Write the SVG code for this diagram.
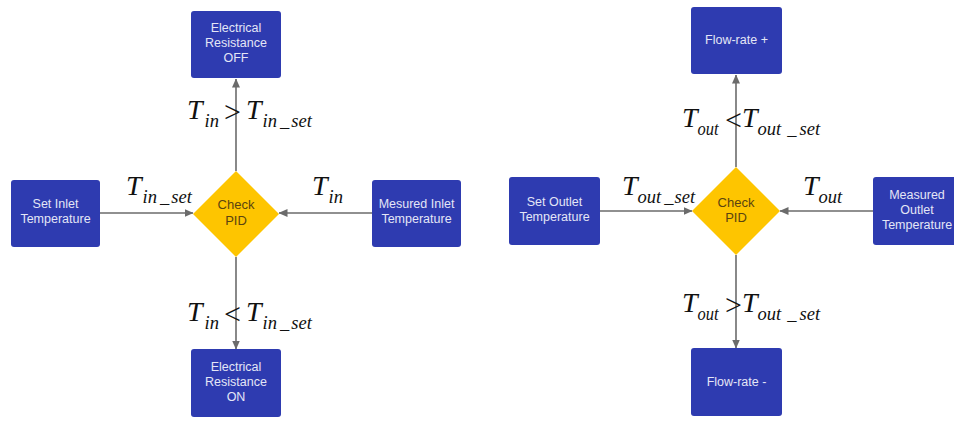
<svg xmlns="http://www.w3.org/2000/svg" width="954" height="421" viewBox="0 0 954 421">
<defs>
<marker id="ah" markerWidth="9" markerHeight="8" refX="8.5" refY="4" orient="auto" markerUnits="userSpaceOnUse">
<path d="M0,0 L9,4 L0,8 z" fill="#6b6b6b"/>
</marker>
<style>
.box{fill:#2e3bb0;}
.bt{font-family:"Liberation Sans",Arial,sans-serif;font-size:12.5px;fill:#e4e6f6;text-anchor:middle;}
.dia{fill:#fec500;}
.dt{font-family:"Liberation Sans",Arial,sans-serif;font-size:13px;fill:#5a4410;text-anchor:middle;}
.conn line{stroke:#6b6b6b;stroke-width:1.6;marker-end:url(#ah);}
.m{font-family:"Liberation Serif","Times New Roman",serif;font-style:italic;font-size:28px;fill:#111;}
.s{font-size:18.5px;}
.r{font-style:normal;font-size:30px;}
</style>
</defs>
<rect width="954" height="421" fill="#ffffff"/>

<g id="conn-left" class="conn">
<line x1="236" y1="171" x2="236" y2="79"/>
<line x1="236" y1="257" x2="236" y2="349"/>
<line x1="100" y1="213" x2="193" y2="213"/>
<line x1="372" y1="213" x2="279" y2="213"/>
</g>
<g id="conn-right" class="conn">
<line x1="736" y1="167" x2="736" y2="75"/>
<line x1="736" y1="255" x2="736" y2="348"/>
<line x1="600" y1="211" x2="692" y2="211"/>
<line x1="873" y1="211" x2="780" y2="211"/>
</g>

<g id="res-off"><rect class="box" x="191" y="11" width="90" height="67" rx="3"/>
<text class="bt" x="236" y="32">Electrical</text><text class="bt" x="236" y="47">Resistance</text><text class="bt" x="236" y="62">OFF</text></g>
<g id="res-on"><rect class="box" x="191" y="349" width="90" height="68" rx="3"/>
<text class="bt" x="236" y="371">Electrical</text><text class="bt" x="236" y="386">Resistance</text><text class="bt" x="236" y="401">ON</text></g>
<g id="set-inlet"><rect class="box" x="11" y="180" width="89" height="67" rx="3"/>
<text class="bt" x="55.5" y="208">Set Inlet</text><text class="bt" x="55.5" y="223">Temperature</text></g>
<g id="meas-inlet"><rect class="box" x="372" y="180" width="89" height="67" rx="3"/>
<text class="bt" x="416.5" y="208">Mesured Inlet</text><text class="bt" x="416.5" y="223">Temperature</text></g>
<g id="check-left"><polygon class="dia" points="236,171 279,214 236,257 193,214"/>
<text class="dt" x="236" y="209">Check</text><text class="dt" x="236" y="225">PID</text></g>

<g id="flow-plus"><rect class="box" x="691" y="7" width="91" height="67" rx="3"/>
<text class="bt" x="736.5" y="44">Flow-rate +</text></g>
<g id="flow-minus"><rect class="box" x="691" y="348" width="91" height="68" rx="3"/>
<text class="bt" x="736.5" y="386">Flow-rate -</text></g>
<g id="set-outlet"><rect class="box" x="509" y="177" width="91" height="68" rx="3"/>
<text class="bt" x="554.5" y="206">Set Outlet</text><text class="bt" x="554.5" y="221">Temperature</text></g>
<g id="meas-outlet"><rect class="box" x="873" y="177" width="90" height="68" rx="3"/>
<text class="bt" x="917" y="199">Measured</text><text class="bt" x="917" y="214">Outlet</text><text class="bt" x="917" y="229">Temperature</text></g>
<g id="check-right"><polygon class="dia" points="736,167 780,211 736,255 692,211"/>
<text class="dt" x="736" y="207">Check</text><text class="dt" x="736" y="222">PID</text></g>

<g id="labels">
<text class="m" x="187" y="119">T<tspan class="s" dx="2" dy="8">in</tspan><tspan class="r" x="224" y="122">&gt;</tspan><tspan x="246" y="119">T</tspan><tspan class="s" dx="1" dy="8">in</tspan><tspan class="s" dx="3">_</tspan><tspan class="s" dx="2">set</tspan></text>
<text class="m" x="187" y="321">T<tspan class="s" dx="2" dy="8">in</tspan><tspan class="r" x="224" y="324">&lt;</tspan><tspan x="246" y="321">T</tspan><tspan class="s" dx="1" dy="8">in</tspan><tspan class="s" dx="3">_</tspan><tspan class="s" dx="2">set</tspan></text>
<text class="m" x="126" y="195">T<tspan class="s" dx="1" dy="8">in</tspan><tspan class="s" dx="3">_</tspan><tspan class="s" dx="2">set</tspan></text>
<text class="m" x="312" y="195">T<tspan class="s" dx="1" dy="8">in</tspan></text>

<text class="m" x="682" y="127">T<tspan class="s" dy="8" textLength="21" lengthAdjust="spacingAndGlyphs">out</tspan><tspan class="r" x="725" y="130">&lt;</tspan><tspan x="742" y="127">T</tspan><tspan class="s" dy="8">out</tspan><tspan class="s" dx="6">_</tspan><tspan class="s" dx="3">set</tspan></text>
<text class="m" x="682" y="312">T<tspan class="s" dy="8" textLength="21" lengthAdjust="spacingAndGlyphs">out</tspan><tspan class="r" x="725" y="315">&gt;</tspan><tspan x="742" y="312">T</tspan><tspan class="s" dy="8">out</tspan><tspan class="s" dx="6">_</tspan><tspan class="s" dx="3">set</tspan></text>
<text class="m" x="622" y="195">T<tspan class="s" dy="8">out</tspan><tspan class="s" dx="3">_</tspan><tspan class="s" dx="1">set</tspan></text>
<text class="m" x="803" y="195">T<tspan class="s" dy="8">out</tspan></text>
</g>
</svg>
